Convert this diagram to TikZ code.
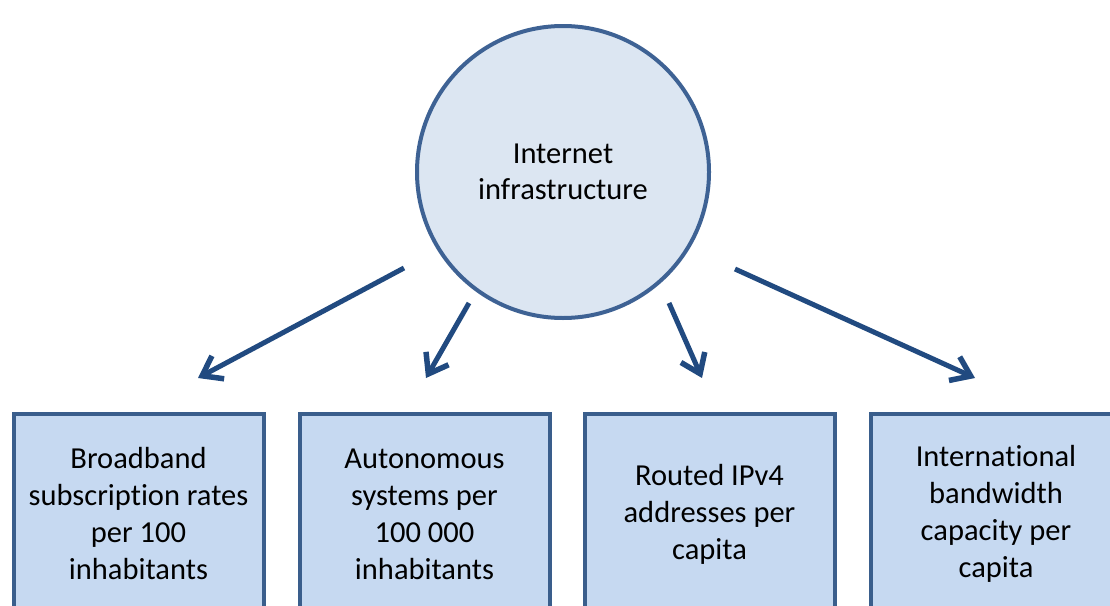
\documentclass[tikz,border=0pt]{standalone}
\usepackage{fontspec}
\setmainfont{Carlito}[Ligatures={NoCommon,NoContextual}]
\usetikzlibrary{arrows.meta}
\definecolor{circfill}{RGB}{220,230,242}
\definecolor{circline}{RGB}{62,98,148}
\definecolor{boxfill}{RGB}{198,217,241}
\definecolor{boxline}{RGB}{58,94,140}
\definecolor{arrcol}{RGB}{33,74,128}
\tikzset{
  hub/.style={circle, draw=circline, fill=circfill, line width=4pt, minimum size=292pt, inner sep=0pt, align=center, font=\fontsize{30.5}{36}\selectfont},
  leaf/.style={rectangle, draw=boxline, fill=boxfill, line width=4pt, minimum width=250pt, minimum height=200pt, inner sep=0pt, align=center, font=\fontsize{30.5}{37}\selectfont},
  arr/.style={draw=arrcol, line width=5pt, -{Straight Barb[length=18pt,width=26pt,line width=5.5pt]}}
}
\begin{document}
\begin{tikzpicture}[x=1pt,y=-1pt]
\clip (0,0) rectangle (1110,605);
\fill[white] (0,0) rectangle (1110,605);
\node[hub] (c) at (563,172) {Internet\\infrastructure};
\node[leaf] (b1) at (138.5,514) {Broadband\\subscription rates\\per 100\\inhabitants};
\node[leaf] (b2) at (424.5,514) {Autonomous\\systems per\\100~000\\inhabitants};
\node[leaf] (b3) at (709.5,514) {Routed IPv4\\addresses per\\capita};
\node[leaf] (b4) at (996,514) {Internat\kern0pt ional\\bandwidth\\capacity per\\capita};
\coordinate (s1) at (404,268); \coordinate (t1) at (198,378);
\coordinate (s2) at (469,303); \coordinate (t2) at (426,378);
\coordinate (s3) at (669,303); \coordinate (t3) at (702,378);
\coordinate (s4) at (735,269); \coordinate (t4) at (975,378);
\draw[arr] (s1) -- (t1);
\draw[arr] (s2) -- (t2);
\draw[arr] (s3) -- (t3);
\draw[arr] (s4) -- (t4);
\end{tikzpicture}
\end{document}
